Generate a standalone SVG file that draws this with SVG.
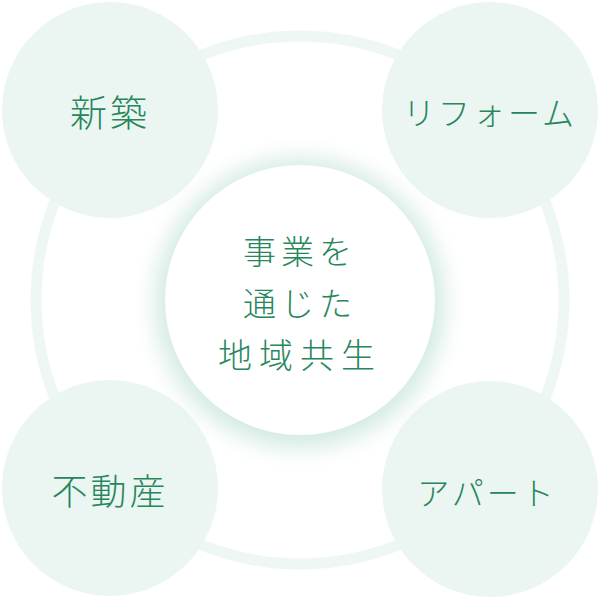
<svg xmlns="http://www.w3.org/2000/svg" width="600" height="600" viewBox="0 0 600 600">
<defs>
<filter id="glow" x="-30%" y="-30%" width="160%" height="160%">
<feGaussianBlur stdDeviation="11"/>
</filter>
<style>
.sat{fill:#ebf6f2}
.lbl{font-family:"Noto Sans CJK JP","Noto Sans CJK SC",sans-serif;font-weight:300;fill:#27865c;text-anchor:middle;dominant-baseline:central}
</style>
</defs>
<rect width="600" height="600" fill="#ffffff"/>
<g id="connectors">
<circle cx="300" cy="300" r="264" fill="none" stroke="#eef7f4" stroke-width="11"/>
</g>
<g id="node-shinchiku">
<circle class="sat" cx="110" cy="110" r="108"/>
<text class="lbl" x="110" y="111" font-size="37" letter-spacing="3">新築</text>
</g>
<g id="node-reform">
<circle class="sat" cx="490" cy="110" r="108"/>
<text class="lbl" x="490" y="111" font-size="32" letter-spacing="3">リフォーム</text>
</g>
<g id="node-fudosan">
<circle class="sat" cx="110" cy="488" r="108"/>
<text class="lbl" x="110" y="489" font-size="36" letter-spacing="3">不動産</text>
</g>
<g id="node-apart">
<circle class="sat" cx="490" cy="489" r="108"/>
<text class="lbl" x="487" y="491" font-size="32" letter-spacing="3">アパート</text>
</g>
<g id="node-center">
<circle cx="300" cy="303" r="145" fill="#d3eae2" filter="url(#glow)"/>
<circle cx="300" cy="300" r="135" fill="#ffffff"/>
<text class="lbl" x="300" y="250" font-size="33" letter-spacing="5">事業を</text>
<text class="lbl" x="300" y="302" font-size="33" letter-spacing="5">通じた</text>
<text class="lbl" x="300" y="353" font-size="34" letter-spacing="7">地域共生</text>
</g>
</svg>
